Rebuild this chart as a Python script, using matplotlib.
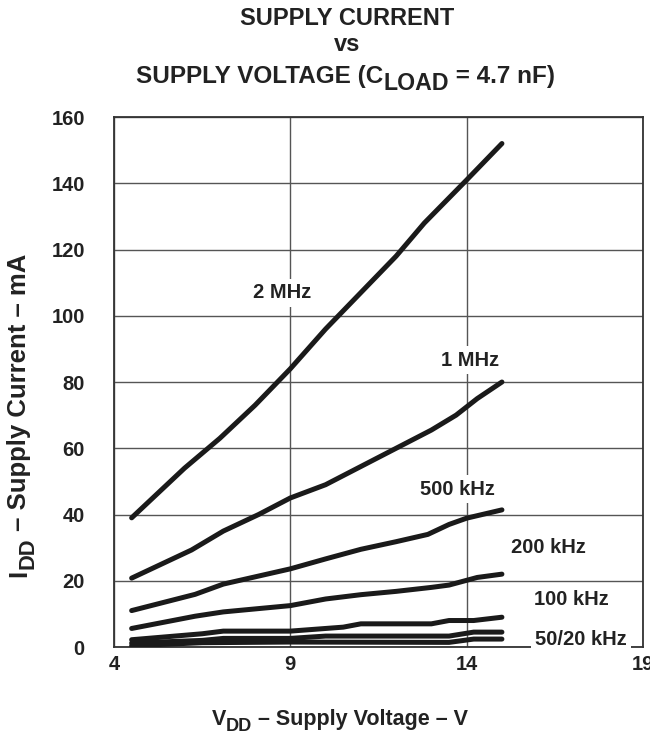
#!/usr/bin/env python3
"""
Supply current vs supply voltage (C_LOAD = 4.7 nF) - recreated chart.
"""

import matplotlib
matplotlib.use('Agg')
import matplotlib.pyplot as plt
from matplotlib import transforms

# Data (x = V_DD in volts, y = I_DD in mA)
x_2mhz = [4.5, 6, 7, 8, 9, 10, 11, 12, 12.8, 14, 15]
y_2mhz = [39, 54, 63, 73, 84, 96, 107, 118, 128, 141, 152]

x_1mhz = [4.5, 6.2, 7.1, 8.1, 9, 10, 11, 12, 13, 13.7, 14.3, 15]
y_1mhz = [20.8, 29.3, 35, 40, 45, 49, 54.5, 60, 65.5, 70, 75, 80]

x_500k = [4.5, 6.3, 7.1, 9, 10, 11, 12, 12.9, 13.5, 14, 15]
y_500k = [11, 15.9, 19, 23.6, 26.6, 29.5, 31.8, 34, 37, 38.9, 41.4]

x_200k = [4.5, 6.3, 7.1, 9, 10, 11, 12, 13, 13.5, 14.3, 15]
y_200k = [5.6, 9.3, 10.6, 12.5, 14.5, 15.8, 16.8, 18, 18.7, 21, 22]

x_100k = [4.5, 6.5, 7.1, 9, 10.5, 11, 13, 13.5, 14.2, 15]
y_100k = [2.2, 4, 4.8, 4.8, 6, 7, 7, 8, 8, 9]

x_50k = [4.5, 6.5, 7.1, 9, 10, 13.5, 14.2, 15]
y_50k = [1.2, 2.0, 2.6, 2.6, 3.3, 3.3, 4.5, 4.5]

x_20k = [4.5, 6.5, 9, 13.5, 14.2, 15]
y_20k = [0.4, 1.3, 1.5, 1.4, 2.4, 2.4]

# curve labels and where they sit (data coords)
label_text = ['2 MHz', '1 MHz', '500 kHz', '200 kHz', '100 kHz', '50/20 kHz']
label_x = [8.76, 14.09, 13.75, 16.33, 16.96, 17.24]
label_y = [106.9, 86.6, 47.7, 29.9, 14.2, 2.4]

x_ticks = [4, 9, 14, 19]
y_ticks = [0, 20, 40, 60, 80, 100, 120, 140, 160]

plt.rcParams['font.family'] = ['Liberation Sans', 'DejaVu Sans']
plt.rcParams['font.weight'] = 'bold'

TEXT = '#222222'
LINE = '#1a1a1a'


def text_with_subs(fig, x, y, parts, size, rotation=0, sub_scale=0.85, sub_drop=0.28):
    """Write pieces of text side by side, centred on (x, y) in figure coords.
    parts is a list of (string, is_subscript)."""
    renderer = fig.canvas.get_renderer()
    widths = []
    for s, is_sub in parts:
        fs = size * sub_scale if is_sub else size
        t = fig.text(0, 0, s, fontsize=fs, fontweight='bold')
        widths.append(t.get_window_extent(renderer).width * 72.0 / fig.dpi)
        t.remove()
    total = sum(widths)
    along = -total / 2.0
    cap = 0.36 * size  # roughly half the cap height, to centre vertically
    for (s, is_sub), w in zip(parts, widths):
        fs = size * sub_scale if is_sub else size
        drop = sub_drop * size if is_sub else 0.0
        if rotation == 90:
            dx, dy = cap + drop, along
        else:
            dx, dy = along, -cap - drop
        tr = transforms.offset_copy(fig.transFigure, fig=fig, x=dx, y=dy, units='points')
        fig.text(x, y, s, transform=tr, fontsize=fs, fontweight='bold', color=TEXT,
                 ha='left', va='baseline', rotation=rotation, rotation_mode='anchor')
        along += w


fig = plt.figure(figsize=(6.5, 7.36), dpi=100)
ax = fig.add_axes([0.1754, 0.1209, 0.8138, 0.7201])

curves = [(x_2mhz, y_2mhz), (x_1mhz, y_1mhz), (x_500k, y_500k),
          (x_200k, y_200k), (x_100k, y_100k), (x_50k, y_50k), (x_20k, y_20k)]
for xs, ys in curves:
    ax.plot(xs, ys, color=LINE, lw=3.6, solid_capstyle='round',
            solid_joinstyle='round', zorder=3)

for t, lx, ly in zip(label_text, label_x, label_y):
    ax.text(lx, ly, t, ha='center', va='center', fontsize=14.5,
            fontweight='bold', color=TEXT, zorder=5,
            bbox=dict(facecolor='white', edgecolor='none', pad=3))

ax.set_xlim(4, 19)
ax.set_ylim(0, 160)
ax.set_xticks(x_ticks)
ax.set_yticks(y_ticks)
ax.tick_params(length=0, labelsize=14.5, colors=TEXT)
ax.tick_params(axis='y', pad=21)
ax.tick_params(axis='x', pad=6)
for lab in ax.get_xticklabels() + ax.get_yticklabels():
    lab.set_fontweight('bold')

ax.grid(True, color='#555555', lw=1.0)
for s in ax.spines.values():
    s.set_color('#333333')
    s.set_linewidth(1.3)
    s.set_zorder(2.5)

# title, three lines
fig.text(0.534, 0.9755, 'SUPPLY CURRENT', ha='center', va='center',
         fontsize=17, fontweight='bold', color=TEXT)
fig.text(0.534, 0.939, 'vs', ha='center', va='center',
         fontsize=17, fontweight='bold', color=TEXT)
text_with_subs(fig, 0.531, 0.899,
               [('SUPPLY VOLTAGE (C', False), ('LOAD', True), (' = 4.7 nF)', False)],
               size=17.5, sub_scale=0.95)

text_with_subs(fig, 0.523, 0.026,
               [('V', False), ('DD', True), (' – Supply Voltage – V', False)],
               size=15.5)
text_with_subs(fig, 0.026, 0.436,
               [('I', False), ('DD', True), (' – Supply Current – mA', False)],
               size=18.5, rotation=90)

fig.savefig('out.png', dpi=100)
